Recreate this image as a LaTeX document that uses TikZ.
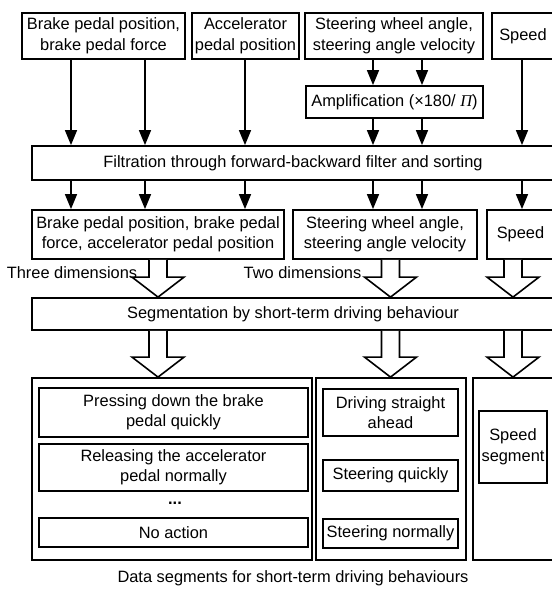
\documentclass[tikz,border=0pt]{standalone}
\usepackage{fontspec}
\setmainfont{Liberation Sans}
\newfontfamily\pifont{Liberation Serif}
\usetikzlibrary{arrows.meta,calc}

% wide open arrow between two points on the same vertical
\newcommand{\hollowarr}[2]{%
  \draw[hol] ($#1+(-9,0)$) -- ($#2+(-9,-20)$) -- ($#2+(-26,-20)$) -- #2
    -- ($#2+(26,-20)$) -- ($#2+(9,-20)$) -- ($#1+(9,0)$);}

\begin{document}
\begin{tikzpicture}[x=1pt, y=-1pt,
  font=\fontsize{16.4}{20.5}\selectfont,
  blk/.style={draw, line width=1.8pt, rectangle, align=center, inner sep=1.5pt},
  arr/.style={line width=1.6pt, -{Triangle[length=15pt,width=12pt]}},
  hol/.style={draw, line width=1.6pt, fill=white, line join=miter}
]
\clip (0,0) rectangle (552,590);
% inputs
\node[blk, minimum width=163, minimum height=46] (in1) at (103.5,36) {Brake pedal position,\\brake pedal force};
\node[blk, minimum width=107, minimum height=46] (in2) at (245.5,36) {Accelerator\\pedal position};
\node[blk, minimum width=178, minimum height=46] (in3) at (394,36)   {Steering wheel angle,\\steering angle velocity};
\node[blk, minimum width=62,  minimum height=46] (in4) at (523,36)   {Speed};
\node[blk, minimum width=177, minimum height=32] (amp) at (394.5,102) {Amplification (×180/ {\pifont\itshape Π})};
\node[blk, minimum width=522, minimum height=34] (filt) at (293,163) {Filtration through forward-backward filter and sorting};
% sorted signals
\node[blk, minimum width=252, minimum height=49] (mA) at (158,234.5)   {Brake pedal position, brake pedal\\force, accelerator pedal position};
\node[blk, minimum width=184, minimum height=49] (mB) at (385,234.5)   {Steering wheel angle,\\steering angle velocity};
\node[blk, minimum width=67,  minimum height=49] (mC) at (520.5,234.5) {Speed};
\node (three) at (72,273)    {Three dimensions};
\node (two)   at (302.5,273) {Two dimensions};
\node[blk, minimum width=522, minimum height=32] (seg) at (293,314) {Segmentation by short-term driving behaviour};
% segments
\node[blk, minimum width=280, minimum height=182] (oA) at (172,469)   {};
\node[blk, minimum width=150, minimum height=182] (oB) at (391,469)   {};
\node[blk, minimum width=81,  minimum height=182] (oC) at (513.5,469) {};
\node[blk, minimum width=269, minimum height=49] (a1) at (173.5,412.5) {Pressing down the brake\\pedal quickly};
\node[blk, minimum width=269, minimum height=47] (a2) at (173.5,467.5) {Releasing the accelerator\\pedal normally};
\node (dots) at (175,503) {\textbf{...}};
\node[blk, minimum width=269, minimum height=29] (a3) at (173.5,532.5) {No action};
\node[blk, minimum width=135, minimum height=47] (b1) at (390.5,412.5) {Driving straight\\ahead};
\node[blk, minimum width=135, minimum height=31] (b2) at (390.5,475.5) {Steering quickly};
\node[blk, minimum width=135, minimum height=29] (b3) at (390.5,533.5) {Steering normally};
\node[blk, minimum width=68,  minimum height=72] (c1) at (513,447)     {Speed\\segment};
\node (cap) at (293,578) {Data segments for short-term driving behaviours};
% columns
\coordinate (xa) at (71,0);
\coordinate (xb) at (145,0);
\coordinate (xc) at (245,0);
\coordinate (xd) at (373,0);
\coordinate (xe) at (422,0);
\coordinate (xf) at (522,0);
\coordinate (ha) at (158,0);
\coordinate (hb) at (390.5,0);
\coordinate (hc) at (513,0);
\foreach \c in {xa,xb} \draw[arr] (in1.south -| \c) -- (filt.north -| \c);
\draw[arr] (in2.south -| xc) -- (filt.north -| xc);
\foreach \c in {xd,xe} {
  \draw[arr] (in3.south -| \c) -- (amp.north -| \c);
  \draw[arr] (amp.south -| \c) -- (filt.north -| \c);
  \draw[arr] (filt.south -| \c) -- (mB.north -| \c);
}
\draw[arr] (in4.south -| xf) -- (filt.north -| xf);
\foreach \c in {xa,xb,xc} \draw[arr] (filt.south -| \c) -- (mA.north -| \c);
\draw[arr] (filt.south -| xf) -- (mC.north -| xf);
\hollowarr{(mA.south -| ha)}{(seg.north -| ha)}
\hollowarr{(mB.south -| hb)}{(seg.north -| hb)}
\hollowarr{(mC.south -| hc)}{(seg.north -| hc)}
\hollowarr{(seg.south -| ha)}{(oA.north -| ha)}
\hollowarr{(seg.south -| hb)}{(oB.north -| hb)}
\hollowarr{(seg.south -| hc)}{(oC.north -| hc)}
\end{tikzpicture}
\end{document}
